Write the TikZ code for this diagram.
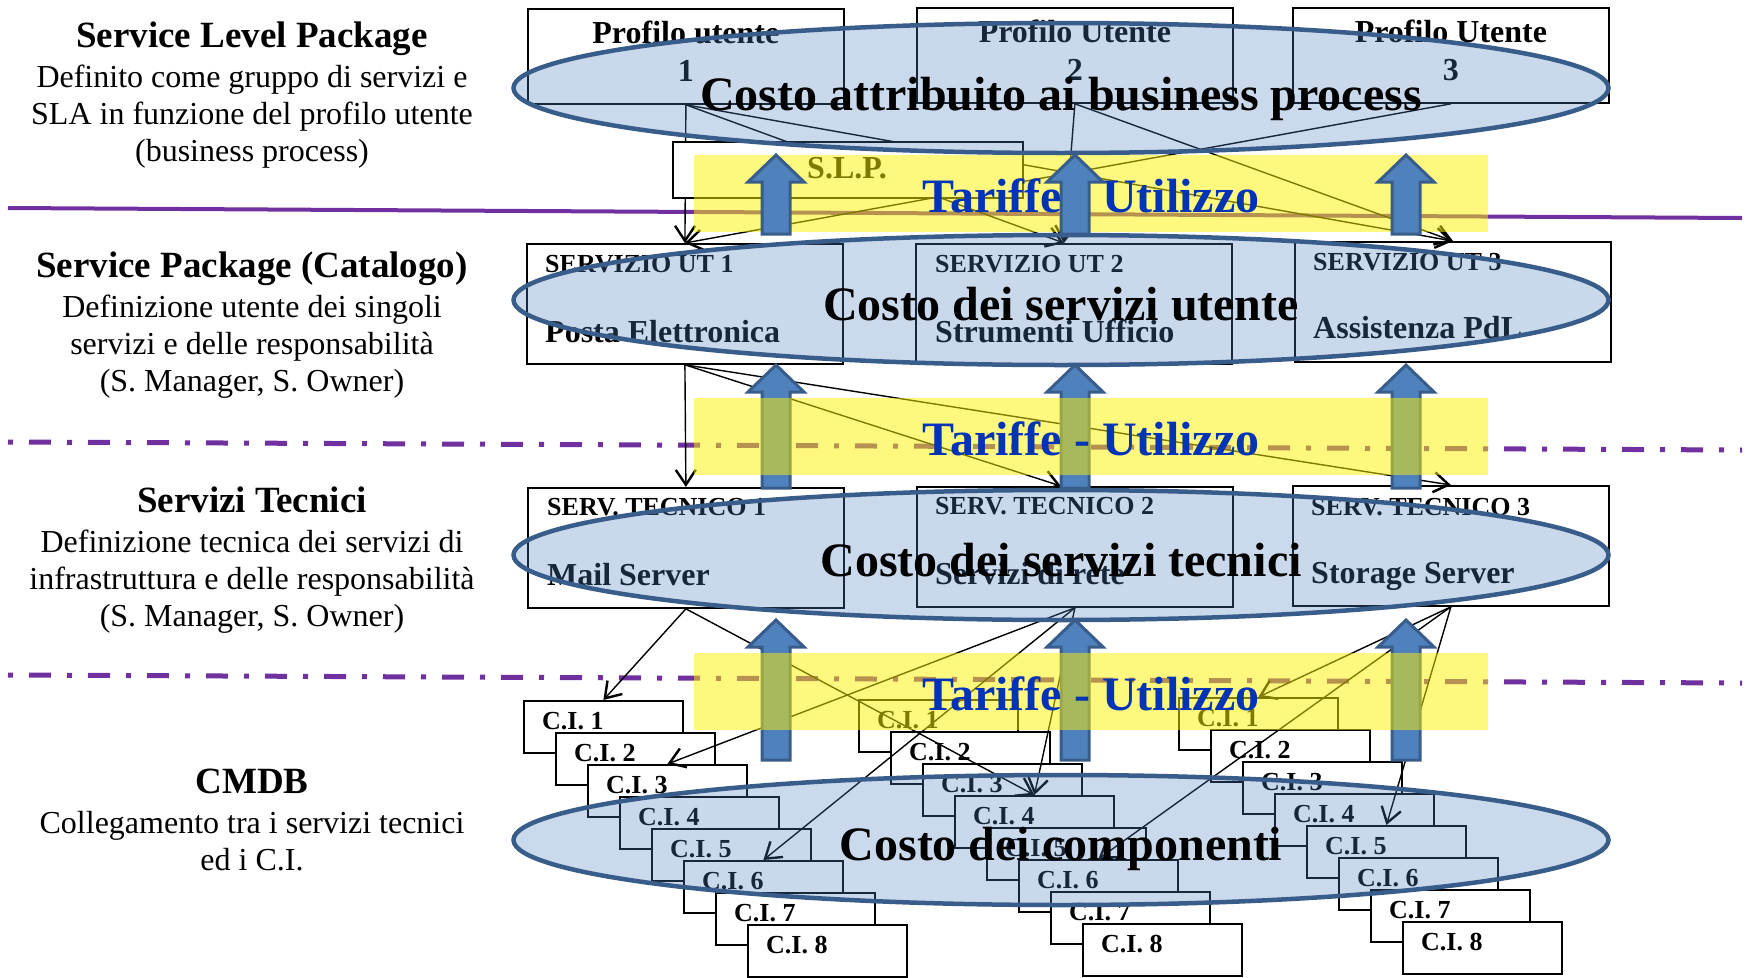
\documentclass[tikz,border=0pt]{standalone}
\usepackage{fontspec}
\setmainfont{Liberation Serif}
\usepackage{tikz}
\usetikzlibrary{shapes.geometric, arrows.meta}

\definecolor{ellfill}{RGB}{79,129,189}
\definecolor{ellline}{RGB}{56,93,138}
\definecolor{lvlpurple}{RGB}{112,48,160}
\definecolor{tarblue}{RGB}{0,51,181}

% block arrow: x, tip y, bottom y
\newcommand{\costarrow}[3]{%
  \filldraw[blockarrow] (#1-14,#3) -- (#1-14,#2+27) -- (#1-28,#2+27) -- (#1,#2)
    -- (#1+28,#2+27) -- (#1+14,#2+27) -- (#1+14,#3) -- cycle;}

\begin{document}
\begin{tikzpicture}[x=1pt, y=-1pt,
    pbox/.style={draw, fill=white, line width=1.8pt, anchor=north west, inner sep=0pt,
      minimum width=316pt, minimum height=95pt},
    sbox/.style={pbox, minimum height=120pt},
    cibox/.style={pbox, minimum width=159pt, minimum height=52pt},
    smalltxt/.style={font=\fontsize{26}{30}\selectfont\bfseries, anchor=base west, inner sep=0pt},
    bigtxt/.style={font=\fontsize{32}{36}\selectfont\bfseries, anchor=base west, inner sep=0pt},
    lvltitle/.style={font=\fontsize{37}{42}\selectfont\bfseries, anchor=base, inner sep=0pt},
    lvlbody/.style={font=\fontsize{32}{36}\selectfont, anchor=base, inner sep=0pt},
    costell/.style={ellipse, draw=ellline, line width=4.5pt, fill=ellfill, fill opacity=0.3,
      draw opacity=1, minimum width=1095pt, minimum height=130pt, inner sep=0pt},
    costtxt/.style={font=\fontsize{48}{52}\selectfont\bfseries, anchor=base, inner sep=0pt},
    tartxt/.style={costtxt, text=tarblue},
    band/.style={fill=yellow, fill opacity=0.5},
    blockarrow/.style={fill=ellfill, draw=ellline, line width=3pt},
    conn/.style={line width=1.4pt, -{Straight Barb[length=15pt, width=20pt, line width=2.4pt]}},
    solidlvl/.style={draw=lvlpurple, line width=4pt},
    dashlvl/.style={draw=lvlpurple, line width=5pt, dash pattern=on 5pt off 16pt on 22pt off 16pt}]

    \useasboundingbox (0,0) rectangle (1750,977);

    % Level descriptions on the left
    \node[lvltitle] (slpkg) at (252,47) {Service Level Package};
    \node[lvlbody] at (252,87) {Definito come gruppo di servizi e};
    \node[lvlbody] at (252,124) {SLA in funzione del profilo utente};
    \node[lvlbody] at (252,161) {(business process)};

    \node[lvltitle] (spkg) at (252,277) {Service Package (Catalogo)};
    \node[lvlbody] at (252,317) {Definizione utente dei singoli};
    \node[lvlbody] at (252,354) {servizi e delle responsabilità};
    \node[lvlbody] at (252,391) {(S. Manager, S. Owner)};

    \node[lvltitle] (stec) at (252,512) {Servizi Tecnici};
    \node[lvlbody] at (252,552) {Definizione tecnica dei servizi di};
    \node[lvlbody] at (252,589) {infrastruttura e delle responsabilità};
    \node[lvlbody] at (252,626) {(S. Manager, S. Owner)};

    \node[lvltitle] (cmdb) at (252,793) {CMDB};
    \node[lvlbody] at (252,833) {Collegamento tra i servizi tecnici};
    \node[lvlbody] at (252,870) {ed i C.I.};

    % Separators between the levels
    \draw[solidlvl] (8,208) -- (1742,218);
    \draw[dashlvl] (8,442) -- (1742,450);
    \draw[dashlvl] (8,675) -- (1742,683);

    % User profiles
    \node[pbox] (p1) at (527,8) {};
    \node[pbox] (p2) at (916,7) {};
    \node[pbox] (p3) at (1292,7) {};
    \node[bigtxt, anchor=base] at ([yshift=-35pt]p1.north) {Profilo utente};
    \node[bigtxt, anchor=base] at ([yshift=-73pt]p1.north) {1};
    \node[bigtxt, anchor=base] at ([yshift=-35pt]p2.north) {Profilo Utente};
    \node[bigtxt, anchor=base] at ([yshift=-73pt]p2.north) {2};
    \node[bigtxt, anchor=base] at ([yshift=-35pt]p3.north) {Profilo Utente};
    \node[bigtxt, anchor=base] at ([yshift=-73pt]p3.north) {3};

    % User services
    \node[sbox] (u1) at (526,243) {};
    \node[sbox] (u2) at (915,243) {};
    \node[sbox] (u3) at (1294,241) {};
    \node[smalltxt] at ([xshift=19pt, yshift=-29pt]u1.north west) {SERVIZIO UT 1};
    \node[bigtxt] at ([xshift=19pt, yshift=-99pt]u1.north west) {Posta Elettronica};
    \node[smalltxt] at ([xshift=20pt, yshift=-29pt]u2.north west) {SERVIZIO UT 2};
    \node[bigtxt] at ([xshift=20pt, yshift=-99pt]u2.north west) {Strumenti Ufficio};
    \node[smalltxt] at ([xshift=19pt, yshift=-29pt]u3.north west) {SERVIZIO UT 3};
    \node[bigtxt] at ([xshift=19pt, yshift=-97pt]u3.north west) {Assistenza PdL};

    % Technical services
    \node[sbox] (s1) at (527,487) {};
    \node[sbox] (s2) at (916,486) {};
    \node[sbox] (s3) at (1292,485) {};
    \node[smalltxt] at ([xshift=20pt, yshift=-28pt]s1.north west) {SERV. TECNICO 1};
    \node[bigtxt] at ([xshift=20pt, yshift=-98pt]s1.north west) {Mail Server};
    \node[smalltxt] at ([xshift=19pt, yshift=-28pt]s2.north west) {SERV. TECNICO 2};
    \node[bigtxt] at ([xshift=19pt, yshift=-98pt]s2.north west) {Servizi di rete};
    \node[smalltxt] at ([xshift=19pt, yshift=-30pt]s3.north west) {SERV. TECNICO 3};
    \node[bigtxt] at ([xshift=19pt, yshift=-98pt]s3.north west) {Storage Server};

    % Configuration items, three stacks
    \foreach \g/\gx/\gy in {a/523/700, b/858/699, c/1178/697} {
        \foreach \i in {1,...,8} {
            \node[cibox] (\g\i) at ({\gx+32*(\i-1)}, {\gy+32*(\i-1)}) {};
            \node[smalltxt] (\g\i txt) at ([xshift=19pt, yshift=-29pt]\g\i.north west) {C.I. \i};
        }
    }

    % Links profile -> user service
    \draw[conn] (p1.south) -- (u1.north);
    \draw[conn] (p1.south) -- ([xshift=-10pt]u2.north);
    \draw[conn] (p1.south) -- (u3.north);
    \draw[conn] (p2.south) -- ([xshift=-10pt]u2.north);
    \draw[conn] (p2.south) -- (u3.north);
    \draw[conn] (p3.south) -- (u1.north);

    % Links user service -> technical service
    \draw[conn] (u1.south) -- (s1.north);
    \draw[conn] (u1.south) -- ([xshift=-14pt]s2.north);
    \draw[conn] (u1.south) -- (s3.north);
    \draw[conn] (u2.south) -- (s2.north);

    % Links technical service -> C.I.
    \draw[conn] (s1.south) -- (a1.north);
    \draw[conn] (s1.south) -- (b4.north);
    \draw[conn] (s2.south) -- (a3.north);
    \draw[conn] (s2.south) -- (a6.north);
    \draw[conn] (s2.south) -- (b4.north);
    \draw[conn] (s3.south) -- (c1.north);
    \draw[conn] (s3.south) -- (b6.north);
    \draw[conn] (s3.south) -- (c5.north);

    % Service level package box
    \node[pbox, minimum width=350pt, minimum height=56pt] (slp) at (672,141) {};
    \node[bigtxt] at ([xshift=135pt, yshift=-37pt]slp.north west) {S.L.P.};

    % Cost ellipses
    \node[costell] (e1) at (1061,88) {};
    \node[costell] (e2) at (1061,300) {};
    \node[costell] (e3) at (1061,555) {};
    \node[costell] (e4) at (1061,840) {};
    \node[costtxt] at ([yshift=-22pt]e1.center) {Costo attribuito ai business process};
    \node[costtxt] at ([yshift=-20pt]e2.center) {Costo dei servizi utente};
    \node[costtxt] at ([yshift=-21pt]e3.center) {Costo dei servizi tecnici};
    \node[costtxt] at ([yshift=-20pt]e4.center) {Costo dei componenti};

    % Rates and usage, top band
    \fill[band] (694,155) rectangle (1488,232);
    \node[tartxt] (tar1) at (1091,212) {Tariffe - Utilizzo};
    \costarrow{776}{155}{234}
    \costarrow{1075}{155}{234}
    \costarrow{1406}{155}{234}

    % Rates and usage, lower bands
    \costarrow{776}{365}{488}
    \costarrow{1075}{365}{488}
    \costarrow{1406}{365}{488}
    \costarrow{776}{620}{760}
    \costarrow{1075}{620}{760}
    \costarrow{1406}{620}{760}
    \fill[band] (694,398) rectangle (1488,475);
    \fill[band] (694,653) rectangle (1488,730);
    \node[tartxt] (tar2) at (1091,455) {Tariffe - Utilizzo};
    \node[tartxt] (tar3) at (1091,710) {Tariffe - Utilizzo};
\end{tikzpicture}
\end{document}
